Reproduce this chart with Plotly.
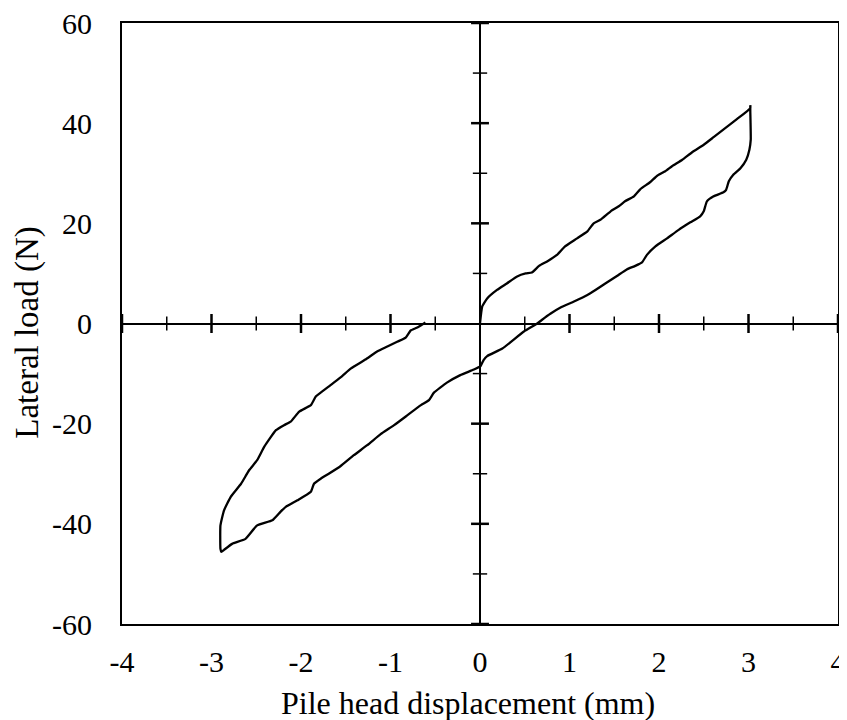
import plotly.graph_objects as go

# Hysteresis loop: pile head displacement (mm) vs lateral load (N)
disp = [
    0.0, 0.025, 0.08, 0.19, 0.30, 0.415, 0.51, 0.58, 0.66, 0.75, 0.86, 0.95, 1.085, 1.20, 1.27, 1.345,
    1.46, 1.55, 1.62, 1.72, 1.79, 1.90, 1.98, 2.07, 2.145, 2.26, 2.37, 2.50, 2.61, 2.74, 2.87, 3.02, 3.02,
    3.02, 3.025, 3.01, 2.975, 2.91, 2.83, 2.78, 2.75, 2.72, 2.61, 2.535, 2.50, 2.46, 2.35, 2.22, 2.09,
    1.96, 1.865, 1.81, 1.735, 1.64, 1.53, 1.40, 1.29, 1.20, 1.05, 0.90, 0.79, 0.69, 0.64, 0.49, 0.25,
    0.08, 0.04, 0.006, -0.07, -0.22, -0.37, -0.515, -0.57, -0.66, -0.81, -0.96, -1.11, -1.26, -1.41,
    -1.56, -1.69, -1.78, -1.855, -1.89, -2.04, -2.17, -2.23, -2.32, -2.49, -2.62, -2.77, -2.86, -2.89,
    -2.90, -2.90, -2.86, -2.785, -2.67, -2.58, -2.49, -2.41, -2.28, -2.19, -2.115, -2.02, -1.89, -1.835,
    -1.67, -1.54, -1.445, -1.28, -1.15, -1.035, -0.92, -0.83, -0.775, -0.70, -0.61,
]
load = [
    0.0, 3.4, 5.0, 6.7, 8.0, 9.4, 10.0, 10.2, 11.5, 12.4, 13.7, 15.4, 17.0, 18.4, 20.0, 20.7,
    22.4, 23.4, 24.4, 25.4, 26.8, 28.2, 29.5, 30.4, 31.4, 32.7, 34.2, 35.7, 37.2, 39.0, 40.8, 43.0, 43.6,
    42.5, 36.7, 34.7, 32.7, 31.0, 29.7, 28.4, 26.7, 26.2, 25.4, 24.4, 22.4, 21.4, 20.2, 18.7, 17.0,
    15.4, 13.7, 12.2, 11.5, 10.8, 9.5, 8.0, 6.7, 5.7, 4.4, 3.2, 2.0, 0.7, 0.0, -1.6, -5.0,
    -6.5, -7.3, -8.5, -9.2, -10.3, -11.8, -13.8, -15.3, -16.3, -18.3, -20.3, -22.1, -24.3, -26.3,
    -28.5, -30.0, -31.0, -32.0, -33.6, -35.3, -36.6, -37.6, -39.3, -40.3, -43.0, -44.0, -45.2, -45.6,
    -45.0, -40.3, -37.3, -34.6, -32.0, -29.3, -27.3, -24.6, -21.3, -20.3, -19.6, -17.6, -16.3, -14.6,
    -12.3, -10.5, -9.0, -7.2, -5.6, -4.6, -3.6, -2.8, -1.4, -0.8, 0.2,
]

x_ticks = [-4, -3, -2, -1, 0, 1, 2, 3, 4]
y_ticks = [-60, -40, -20, 0, 20, 40, 60]
x_minor = [-3.5, -2.5, -1.5, -0.5, 0.5, 1.5, 2.5, 3.5]
y_minor = [-50, -30, -10, 10, 30, 50]

x_title = "Pile head displacement (mm)"
y_title = "Lateral load (N)"

FONT = "Liberation Serif, Times New Roman, serif"

fig = go.Figure()
fig.add_trace(go.Scatter(x=disp, y=load, mode="lines",
                         line=dict(color="black", width=2.3, shape="spline", smoothing=0.4),
                         showlegend=False, hoverinfo="skip"))

shapes = []
# crossed tick marks on the zero axes
for v in x_ticks:
    if v == 0:
        continue
    shapes.append(dict(type="line", xref="x", yref="y", x0=v, x1=v, y0=-1.9, y1=1.9,
                       line=dict(color="black", width=2.5)))
for v in x_minor:
    shapes.append(dict(type="line", xref="x", yref="y", x0=v, x1=v, y0=-1.4, y1=1.4,
                       line=dict(color="black", width=1.5)))
for v in y_ticks:
    if v == 0:
        continue
    shapes.append(dict(type="line", xref="x", yref="y", y0=v, y1=v, x0=-0.1, x1=0.1,
                       line=dict(color="black", width=2.5)))
for v in y_minor:
    shapes.append(dict(type="line", xref="x", yref="y", y0=v, y1=v, x0=-0.08, x1=0.08,
                       line=dict(color="black", width=1.5)))

annotations = [
    dict(text=x_title, xref="paper", yref="paper", x=0.483, y=-0.1316,
         xanchor="center", yanchor="middle", showarrow=False,
         font=dict(family=FONT, size=32, color="black")),
    dict(text=y_title, xref="paper", yref="paper", x=-0.1313, y=0.4863,
         xanchor="center", yanchor="middle", showarrow=False, textangle=-90,
         font=dict(family=FONT, size=33, color="black")),
]

fig.update_layout(
    width=839, height=712,
    margin=dict(l=114, r=9, t=15, b=96, autoexpand=False),
    paper_bgcolor="white", plot_bgcolor="white",
    font=dict(family=FONT, size=30, color="black"),
    shapes=shapes,
    annotations=annotations,
    xaxis=dict(
        range=[-4, 4], tickvals=x_ticks, ticktext=[str(v) for v in x_ticks],
        ticks="", showgrid=False, zeroline=True, zerolinecolor="black", zerolinewidth=2,
        showline=True, linecolor="black", linewidth=2, mirror=True,
        ticklabelstandoff=10, automargin=False, ticklabeloverflow="allow",
        fixedrange=True,
    ),
    yaxis=dict(
        range=[-60, 60], tickvals=y_ticks, ticktext=[str(v) for v in y_ticks],
        ticks="", showgrid=False, zeroline=True, zerolinecolor="black", zerolinewidth=2,
        showline=True, linecolor="black", linewidth=2, mirror=True,
        ticklabelstandoff=22, automargin=False, ticklabeloverflow="allow",
        fixedrange=True,
    ),
)

fig.write_html("out.html")
